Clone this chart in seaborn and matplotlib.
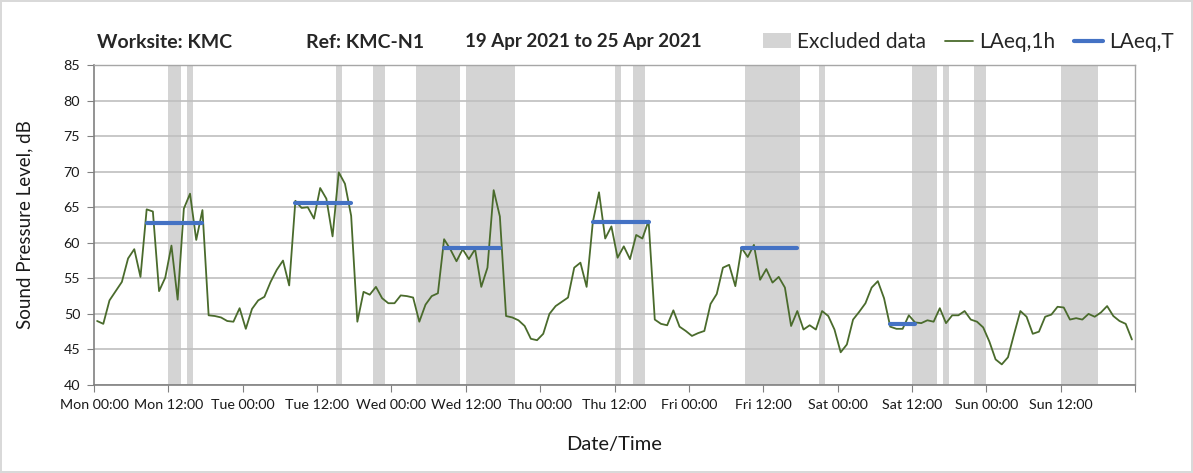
import numpy as np
import pandas as pd
import matplotlib.pyplot as plt
from matplotlib.patches import Patch
from matplotlib.lines import Line2D
import seaborn as sns

# hourly LAeq values, Mon 00:00 to Sun 23:00 (one per hour)
laeq_1h = [
    49.0, 48.6, 51.9, 53.2, 54.5, 57.8, 59.1, 55.2, 64.7, 64.4,
    53.2, 55.1, 59.6, 52.0, 64.8, 66.9, 60.4, 64.6, 49.8, 49.7,
    49.5, 49.0, 48.9, 50.8, 47.9, 50.7, 51.9, 52.4, 54.5, 56.2,
    57.5, 54.0, 65.9, 64.9, 65.0, 63.4, 67.7, 66.2, 60.9, 69.9,
    68.3, 63.8, 48.9, 53.1, 52.7, 53.8, 52.2, 51.5, 51.5, 52.6,
    52.5, 52.3, 48.9, 51.3, 52.5, 52.9, 60.5, 59.1, 57.4, 59.1,
    57.7, 59.1, 53.8, 56.5, 67.4, 63.7, 49.7, 49.5, 49.1, 48.3,
    46.5, 46.3, 47.2, 50.0, 51.1, 51.7, 52.3, 56.5, 57.2, 53.8,
    62.9, 67.1, 60.6, 62.3, 57.9, 59.5, 57.7, 61.1, 60.6, 63.1,
    49.2, 48.6, 48.4, 50.5, 48.2, 47.6, 46.9, 47.3, 47.6, 51.4,
    52.8, 56.5, 56.9, 53.9, 59.3, 58.0, 59.7, 54.8, 56.3, 54.4,
    55.2, 53.7, 48.3, 50.4, 47.8, 48.4, 47.8, 50.4, 49.7, 47.8,
    44.6, 45.7, 49.2, 50.3, 51.5, 53.7, 54.6, 52.2, 48.2, 47.9,
    47.9, 49.8, 48.8, 48.7, 49.1, 48.9, 50.8, 48.7, 49.8, 49.8,
    50.4, 49.2, 48.9, 48.1, 46.1, 43.6, 42.9, 43.9, 47.2, 50.4,
    49.6, 47.2, 47.5, 49.6, 49.9, 51.0, 50.9, 49.2, 49.4, 49.2,
    50.0, 49.6, 50.2, 51.1, 49.7, 49.0, 48.6, 46.4,
]

# excluded periods (hour of week)
excl_start = [12, 15, 39, 45, 52, 60, 84, 87, 105, 117, 132, 137, 142, 156]
excl_end = [14, 16, 40, 47, 59, 68, 85, 89, 114, 118, 136, 138, 144, 162]

# LAeq,T periods (first and last hour index) and levels
period_start = [8, 32, 56, 80, 104, 128]
period_end = [17, 41, 65, 89, 113, 132]
period_level = [62.8, 65.6, 59.3, 62.9, 59.3, 48.6]

day_names = ['Mon', 'Tue', 'Wed', 'Thu', 'Fri', 'Sat', 'Sun']
tick_labels = [f'{d} {t}' for d in day_names for t in ('00:00', '12:00')] + ['']

green = '#4a6b2c'
blue = '#4472c4'
grey = '#d4d4d4'

sns.set_style('white')
plt.rcParams['font.family'] = ['Lato', 'DejaVu Sans']

df = pd.DataFrame({'hour': np.arange(len(laeq_1h)) + 0.5, 'level': laeq_1h})
rows = []
for k, (s, e, v) in enumerate(zip(period_start, period_end, period_level)):
    for h in range(s, e + 1):
        rows.append({'hour': h + 0.5, 'level': v, 'period': k})
df_t = pd.DataFrame(rows)

fig = plt.figure(figsize=(11.93, 4.73), dpi=100, edgecolor='#d9d9d9', linewidth=1.5)
ax = fig.add_axes([94 / 1193, 1 - 385 / 473, (1135 - 94) / 1193, (385 - 65) / 473])

for s, e in zip(excl_start, excl_end):
    ax.axvspan(s, e, color=grey, lw=0, zorder=0.2)

sns.lineplot(data=df, x='hour', y='level', ax=ax, color=green, lw=1.3, zorder=3)
sns.lineplot(data=df_t, x='hour', y='level', units='period', estimator=None,
             ax=ax, color=blue, lw=3, zorder=4)

ax.set_xlim(0, 168)
ax.set_ylim(40, 85)
ax.set_xticks(np.arange(0, 169, 12))
ax.set_xticklabels(tick_labels)
ax.set_xticks(np.arange(0, 169, 24), minor=True)
ax.set_yticks(np.arange(40, 86, 5))
ax.tick_params(axis='x', which='minor', length=0)
ax.tick_params(axis='both', which='major', labelsize=10.3, length=5, color='#808080',
               labelcolor='#1a1a1a', direction='out', bottom=True, left=True, pad=5)
ax.set_axisbelow(True)
ax.grid(axis='x', which='minor', color='#d9d9d9', lw=1.5)
ax.grid(axis='y', which='major', color='#bfbfbf', lw=1.2)

for side in ['left', 'bottom']:
    ax.spines[side].set_color('#808080')
    ax.spines[side].set_linewidth(1.2)
for side in ['top', 'right']:
    ax.spines[side].set_color('#a6a6a6')
    ax.spines[side].set_linewidth(1.0)

ax.set_xlabel('Date/Time', fontsize=14.5, color='#1a1a1a', labelpad=18)
ax.set_ylabel('Sound Pressure Level, dB', fontsize=13.5, color='#1a1a1a', labelpad=22)

fig.text(97 / 1193, 1 - 42 / 473, 'Worksite: KMC', fontsize=14, fontweight='bold', va='center')
fig.text(306 / 1193, 1 - 42 / 473, 'Ref: KMC-N1', fontsize=14, fontweight='bold', va='center')
fig.text(465 / 1193, 1 - 42 / 473, '19 Apr 2021 to 25 Apr 2021', fontsize=13.5,
         fontweight='bold', va='center')

handles = [Patch(facecolor=grey, edgecolor='none'),
           Line2D([], [], color=green, lw=1.3),
           Line2D([], [], color=blue, lw=3)]
fig.legend(handles, ['Excluded data', 'LAeq,1h', 'LAeq,T'], loc='center right',
           bbox_to_anchor=(1188 / 1193, 1 - 42 / 473), ncol=3, frameon=False,
           fontsize=15, handlelength=1.35, handletextpad=0.3, columnspacing=0.9,
           borderpad=0.2)

fig.savefig('out.png', dpi=100)
